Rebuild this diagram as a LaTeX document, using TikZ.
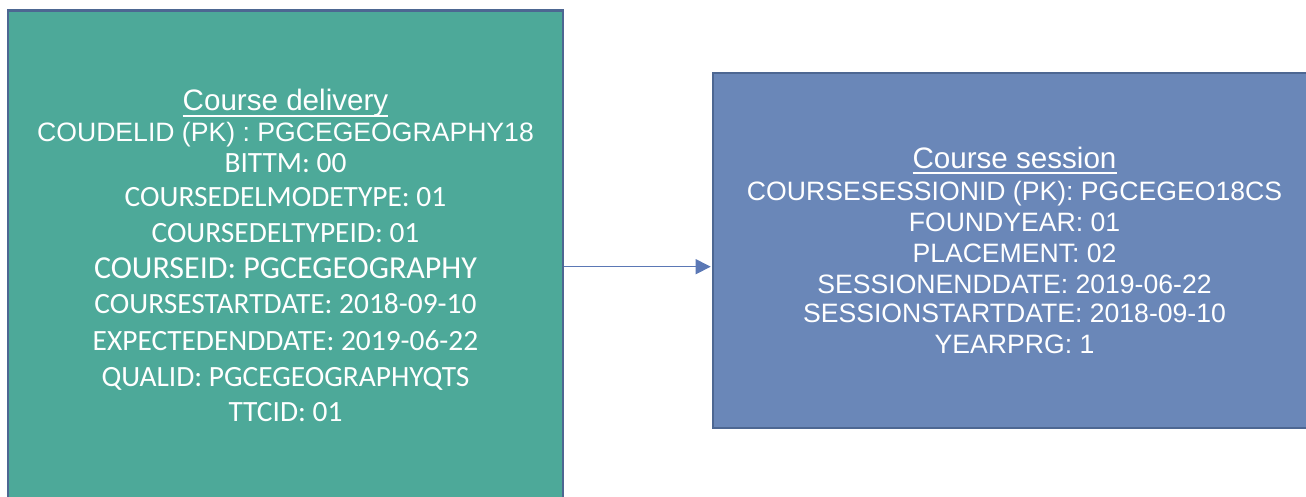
\documentclass[tikz,border=0pt]{standalone}
\usepackage{fontspec}
\usetikzlibrary{arrows.meta}
\newfontfamily\arialf{Liberation Sans}
\newfontfamily\calf{Carlito}
\newcommand{\ulx}[1]{\setbox0\hbox{#1}\rlap{\rule[-5.6pt]{\wd0}{1.7pt}}\box0}
\definecolor{delfill}{HTML}{4DA999}
\definecolor{sesfill}{HTML}{6A87B8}
\definecolor{boxline}{HTML}{4D6792}
\definecolor{arrowcol}{HTML}{5B78B5}
\tikzset{
  entity/.style={draw=boxline, line width=2.6pt, rectangle, inner sep=0pt},
  titletext/.style={anchor=base, text=white, inner sep=0pt, font=\arialf\fontsize{29.6}{33}\selectfont},
  atext/.style={anchor=base, text=white, inner sep=0pt, font=\arialf\fontsize{26.6}{30}\selectfont},
  ctext/.style={anchor=base, text=white, inner sep=0pt, font=\calf\fontsize{29.4}{32}\selectfont},
  cbig/.style={anchor=base, text=white, inner sep=0pt, font=\calf\fontsize{32}{36}\selectfont},
  conn/.style={draw=arrowcol, line width=1.2pt, -{Triangle[length=15pt,width=15pt]}}
}
\begin{document}
\begin{tikzpicture}[x=1pt,y=-1pt]
\useasboundingbox (0,0) rectangle (1306,497);
% boxes
\node[entity, fill=delfill, minimum width=555pt, minimum height=512.8pt] (del) at (285.5,266.7) {};
\node[entity, fill=sesfill, minimum width=617pt, minimum height=355pt] (ses) at (1021.5,250.5) {};
% connector
\draw[conn, shorten >=1pt] (del.east) -- (del.east -| ses.west);
% left texts
\node[titletext] (dt) at (285.5,111) {\ulx{Course delivery}};
\node[atext] (d1) at (285.5,142) {COUDELID (PK) : PGCEGEOGRAPHY18};
\node[ctext] (d2) at (285.5,173) {BITTM: 00};
\node[ctext] (d3) at (285.5,207) {COURSEDELMODETYPE: 01};
\node[ctext] (d4) at (285.5,243) {COURSEDELTYPEID: 01};
\node[cbig] (d5) at (285.5,278.5) {COURSEID: PGCEGEOGRAPHY};
\node[ctext] (d6) at (285.5,313) {COURSESTARTDATE: 2018-09-10};
\node[ctext] (d7) at (285.5,350) {EXPECTEDENDDATE: 2019-06-22};
\node[ctext] (d8) at (285.5,386) {QUALID: PGCEGEOGRAPHYQTS};
\node[ctext] (d9) at (285.5,421) {TTCID: 01};
% right texts
\node[titletext] (st) at (1014.5,168.3) {\ulx{Course session}};
\node[atext] (s1) at (1014.5,200.7) {COURSESESSIONID (PK): PGCEGEO18CS};
\node[atext] (s2) at (1014.5,231) {FOUNDYEAR: 01};
\node[atext] (s3) at (1014.5,262) {PLACEMENT: 02};
\node[atext] (s4) at (1014.5,293) {SESSIONENDDATE: 2019-06-22};
\node[atext] (s5) at (1014.5,322) {SESSIONSTARTDATE: 2018-09-10};
\node[atext] (s6) at (1014.5,353) {YEARPRG: 1};
\end{tikzpicture}
\end{document}
